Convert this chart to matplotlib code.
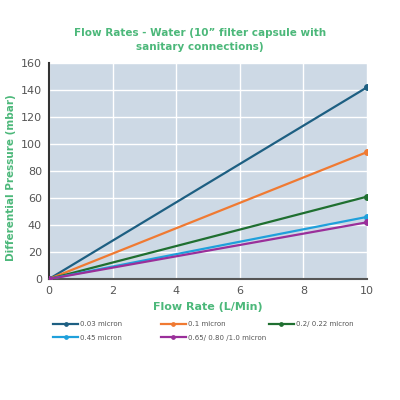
import matplotlib
matplotlib.use("Agg")
import matplotlib.pyplot as plt

flow = [0, 10]
series_names = ["0.03 micron", "0.1 micron", "0.2/ 0.22 micron", "0.45 micron", "0.65/ 0.80 /1.0 micron"]
series_values = [
    [0, 142],
    [0, 94],
    [0, 61],
    [0, 46],
    [0, 42],
]
colors = ["#1d5f82", "#f07a32", "#1f6f30", "#1fa0db", "#9a2f9a"]
x_ticks = [0, 2, 4, 6, 8, 10]
y_ticks = [0, 20, 40, 60, 80, 100, 120, 140, 160]

green = "#4cb87a"
fig = plt.figure(figsize=(4, 4), dpi=100)
ax = fig.add_axes([0.1225, 0.3025, 0.795, 0.54])
ax.set_facecolor("#cdd9e5")
handles = []
for name, vals, c in zip(series_names, series_values, colors):
    h, = ax.plot(flow, vals, color=c, lw=1.6, marker="o", ms=4, label=name, zorder=3)
    handles.append(h)

ax.set_xlim(0, 10)
ax.set_ylim(0, 160)
ax.set_xticks(x_ticks)
ax.set_yticks(y_ticks)
ax.grid(True, color="white", lw=1.0)
ax.set_axisbelow(True)
for s in ["top", "right"]:
    ax.spines[s].set_visible(False)
ax.spines["left"].set_color("#333333")
ax.spines["bottom"].set_color("#555555")
ax.spines["bottom"].set_linewidth(1.5)
ax.spines["left"].set_linewidth(1.5)
ax.tick_params(length=0, labelsize=8, colors="#555555", pad=5)

ax.set_xlabel("Flow Rate (L/Min)", color=green, fontsize=8, fontweight="bold", labelpad=4)
ax.set_ylabel("Differential Pressure (mbar)", color=green, fontsize=7.5, fontweight="bold")
ax.yaxis.set_label_coords(-0.105, 0.47)
fig.text(0.5, 0.9, "Flow Rates - Water (10\u201d filter capsule with\nsanitary connections)",
         ha="center", va="center", color=green, fontsize=7.5, fontweight="bold", linespacing=1.45)

cols = [[0, 3], [1, 4], [2]]
xpos = [0.128, 0.397, 0.667]
for idx, xp in zip(cols, xpos):
    fig.legend([handles[i] for i in idx], [series_names[i] for i in idx],
               loc="upper left", bbox_to_anchor=(xp, 0.202), ncol=1, frameon=False,
               fontsize=5, handlelength=3.6, handletextpad=0.3, markerscale=0.6,
               labelspacing=1.1, labelcolor="#555555", borderaxespad=0, borderpad=0.3)

fig.savefig("out.png", dpi=100)
